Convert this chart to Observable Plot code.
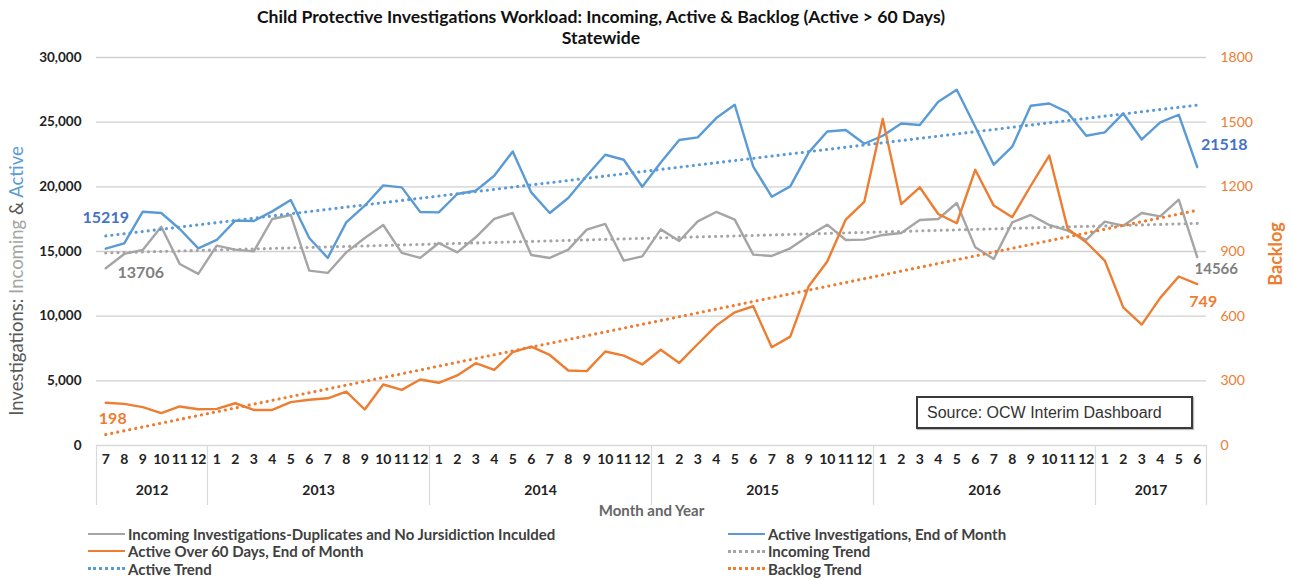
<!DOCTYPE html>
<html>
<head>
<meta charset="utf-8">
<script src="https://cdn.jsdelivr.net/npm/d3@7"></script>
<script src="https://cdn.jsdelivr.net/npm/@observablehq/plot@0.6"></script>
<style>
  html, body { margin: 0; padding: 0; background: #fff; }
  #wrap { position: relative; width: 1292px; height: 580px; font-family: Lato, "Liberation Sans", sans-serif; }
  #title { height: 48px; box-sizing: border-box; padding-top: 6px; text-align: center; font-weight: bold; font-size: 17.6px; line-height: 21px; color: #111; padding-right: 90px; }
  #legend { position: relative; height: 56px; font-size: 15px; font-weight: bold; color: #404040; }
  .li { position: absolute; display: flex; align-items: center; height: 17px; white-space: nowrap; }
  .sw { width: 37px; height: 0; margin-right: 3px; }
  #source { position: absolute; left: 916px; top: 396px; width: 277px; height: 33px; box-sizing: border-box; border: 2px solid #3a3a3a; box-shadow: 1px 1px 1px #bbb; font-family: "Liberation Sans", Arial, sans-serif; font-size: 16px; line-height: 29px; padding-left: 9px; color: #333; background: #fff; }
</style>
</head>
<body>
<div id="wrap">
  <div id="title">Child Protective Investigations Workload: Incoming, Active &amp; Backlog (Active &gt; 60 Days)<br>Statewide</div>
  <div id="chart"></div>
  <div id="legend"></div>
  <div id="source">Source: OCW Interim Dashboard</div>
</div>
<script>
// Month-by-month values, July 2012 – June 2017
const monthTicks = [7,8,9,10,11,12, 1,2,3,4,5,6,7,8,9,10,11,12, 1,2,3,4,5,6,7,8,9,10,11,12, 1,2,3,4,5,6,7,8,9,10,11,12, 1,2,3,4,5,6,7,8,9,10,11,12, 1,2,3,4,5,6];
const years = ["2012","2013","2014","2015","2016","2017"];
const yearMonths = [6, 12, 12, 12, 12, 6];

const incoming = [13706,14811,15120,16920,14038,13266,
  15452,15143,15011,17515,17824,13521,13343,14934,16047,17051,14888,14502,
  15661,14934,16100,17515,17978,14733,14502,15143,16688,17128,14293,14625,
  16711,15815,17329,18056,17461,14757,14656,15243,16225,17074,15892,15916,
  16279,16433,17438,17515,18751,15321,14424,17252,17824,17051,16611,15892,
  17306,16997,17978,17716,19006,14566];
const active = [15219,15630,18079,17978,16742,15243,
  15892,17384,17360,18102,18983,16047,14502,17252,18542,20111,19956,18056,
  18025,19446,19701,20860,22739,19570,17978,19137,20860,22483,22096,20010,
  21888,23618,23820,25318,26346,21556,19238,20034,22661,24283,24391,23330,
  23951,24901,24777,26577,27505,24646,21710,23101,26268,26446,25751,23951,
  24206,25674,23665,24978,25573,21518];
const backlog = [198,193,178,150,181,168,
  170,196,165,165,201,212,219,250,167,283,258,306,
  291,325,382,351,433,459,420,348,345,436,417,376,
  444,383,471,556,618,646,456,505,739,854,1048,1130,
  1515,1120,1198,1074,1031,1279,1113,1059,1205,1345,1005,943,
  858,641,561,685,784,749];

const leftTicks = [0,5000,10000,15000,20000,25000,30000];
const rightTicks = [0,300,600,900,1200,1500,1800];

const C = { incoming: "#A5A5A5", active: "#5B9BD5", backlog: "#ED7D31" };
const k = 30000 / 1800; // secondary axis factor

const rows = incoming.map((v, i) => ({ i, month: monthTicks[i], incoming: v, active: active[i], backlog: backlog[i] * k, backlogRaw: backlog[i] }));

// year groups
let start = 0;
const yearRows = years.map((y, j) => { const r = { year: y, a: start, b: start + yearMonths[j] - 1 }; start += yearMonths[j]; return r; });
const dividers = [-0.5, ...yearRows.map(r => r.b + 0.5)];

const first = rows[0], last = rows[rows.length - 1];
const dotStyle = { ci: 0, strokeWidth: 3.1, strokeDasharray: "0.1 6", strokeLinecap: "round" };

const chart = Plot.plot({
  width: 1292, height: 476,
  marginLeft: 96, marginRight: 86, marginTop: 9, marginBottom: 79,
  x: { type: "linear", domain: [-0.5, 59.5], axis: null },
  y: { domain: [0, 30000], axis: null },
  style: { fontFamily: "Lato, 'Liberation Sans', sans-serif", background: "#fff" },
  marks: [
    Plot.gridY(leftTicks.filter(d => d > 0), { stroke: "#d0d0d0", strokeOpacity: 1, strokeWidth: 1.3 }),
    Plot.ruleY([0], { stroke: "#d9d9d9", strokeWidth: 1.3 }),
    Plot.ruleX(dividers, { stroke: "#d9d9d9", strokeWidth: 1.2, insetTop: 388, insetBottom: -60 }),
    Plot.axisY({ anchor: "left", ticks: leftTicks, tickSize: 0, tickPadding: 15, tickFormat: d3.format(","), fontWeight: "bold", fontSize: 13.5, fill: "#222", label: null }),
    Plot.axisY({ anchor: "right", ticks: rightTicks.map(d => d * k), tickSize: 0, tickPadding: 14, tickFormat: d => String(Math.round(d / k)), fontSize: 14, fill: C.backlog, label: null }),
    Plot.text(rows, { x: "i", text: "month", frameAnchor: "bottom", dy: 18, fontWeight: "bold", fontSize: 14, fill: "#222" }),
    Plot.text(yearRows, { x: d => (d.a + d.b) / 2, text: "year", frameAnchor: "bottom", dy: 49, fontWeight: "bold", fontSize: 14, fill: "#222" }),
    Plot.text(["Month and Year"], { text: d => d, frameAnchor: "bottom", dy: 70, fontWeight: "bold", fontSize: 15, fill: "#666" }),
    Plot.lineY(rows, { x: "i", y: "incoming", stroke: C.incoming, strokeWidth: 2.4 }),
    Plot.lineY(rows, { x: "i", y: "active", stroke: C.active, strokeWidth: 2.4 }),
    Plot.lineY(rows, { x: "i", y: "backlog", stroke: C.backlog, strokeWidth: 2.4 }),
    Plot.linearRegressionY(rows, { x: "i", y: "active", stroke: C.active, ...dotStyle }),
    Plot.linearRegressionY(rows, { x: "i", y: "incoming", stroke: C.incoming, ...dotStyle }),
    Plot.linearRegressionY(rows, { x: "i", y: "backlog", stroke: C.backlog, ...dotStyle }),
    Plot.text([first], { x: "i", y: "active", text: d => String(d.active), dx: 0, dy: -31, fontWeight: "bold", fontSize: 16, fill: "#4472C4" }),
    Plot.text([first], { x: "i", y: "incoming", text: d => String(d.incoming), dx: 35, dy: 5, fontWeight: "bold", fontSize: 16, fill: "#7F7F7F" }),
    Plot.text([first], { x: "i", y: "backlog", text: d => String(d.backlogRaw), dx: 7, dy: 16, fontWeight: "bold", fontSize: 16, fill: C.backlog }),
    Plot.text([last], { x: "i", y: "active", text: d => String(d.active), dx: 27, dy: -22, fontWeight: "bold", fontSize: 16, fill: "#4472C4" }),
    Plot.text([last], { x: "i", y: "incoming", text: d => String(d.incoming), dx: 19, dy: 12, fontWeight: "bold", fontSize: 15, fill: "#7F7F7F" }),
    Plot.text([last], { x: "i", y: "backlog", text: d => String(d.backlogRaw), dx: 6, dy: 18, fontWeight: "bold", fontSize: 16, fill: C.backlog })
  ]
});
document.getElementById("chart").appendChild(chart);

// axis titles
const svg = d3.select(chart);
const lt = svg.append("text")
  .attr("transform", "translate(18," + (281 - 48) + ") rotate(-90)")
  .attr("text-anchor", "middle").attr("dominant-baseline", "middle")
  .attr("font-size", 18.5).attr("font-family", "Lato, 'Liberation Sans', sans-serif");
lt.append("tspan").attr("fill", "#595959").text("Investigations: ");
lt.append("tspan").attr("fill", C.incoming).text("Incoming");
lt.append("tspan").attr("fill", "#595959").text(" & ");
lt.append("tspan").attr("fill", C.active).text("Active");
svg.append("text")
  .attr("transform", "translate(1277," + (254 - 48) + ") rotate(-90)")
  .attr("text-anchor", "middle").attr("dominant-baseline", "middle")
  .attr("font-size", 18).attr("font-weight", "bold").attr("fill", C.backlog)
  .attr("font-family", "Lato, 'Liberation Sans', sans-serif")
  .text("Backlog");

// legend
const legendItems = [
  { label: "Incoming Investigations-Duplicates and No Jursidiction Inculded", color: C.incoming, dotted: false, col: 0, row: 0 },
  { label: "Active Investigations, End of Month", color: C.active, dotted: false, col: 1, row: 0 },
  { label: "Active Over 60 Days, End of Month", color: C.backlog, dotted: false, col: 0, row: 1 },
  { label: "Incoming Trend", color: C.incoming, dotted: true, col: 1, row: 1 },
  { label: "Active Trend", color: C.active, dotted: true, col: 0, row: 2 },
  { label: "Backlog Trend", color: C.backlog, dotted: true, col: 1, row: 2 }
];
const leg = d3.select("#legend");
legendItems.forEach(it => {
  const d = leg.append("div").attr("class", "li")
    .style("left", (it.col ? 728 : 88) + "px")
    .style("top", (1 + it.row * 17.5) + "px");
  d.append("div").attr("class", "sw")
    .style("border-top", it.dotted ? `3px dotted ${it.color}` : `2.5px solid ${it.color}`);
  d.append("span").text(it.label);
});
</script>
</body>
</html>
